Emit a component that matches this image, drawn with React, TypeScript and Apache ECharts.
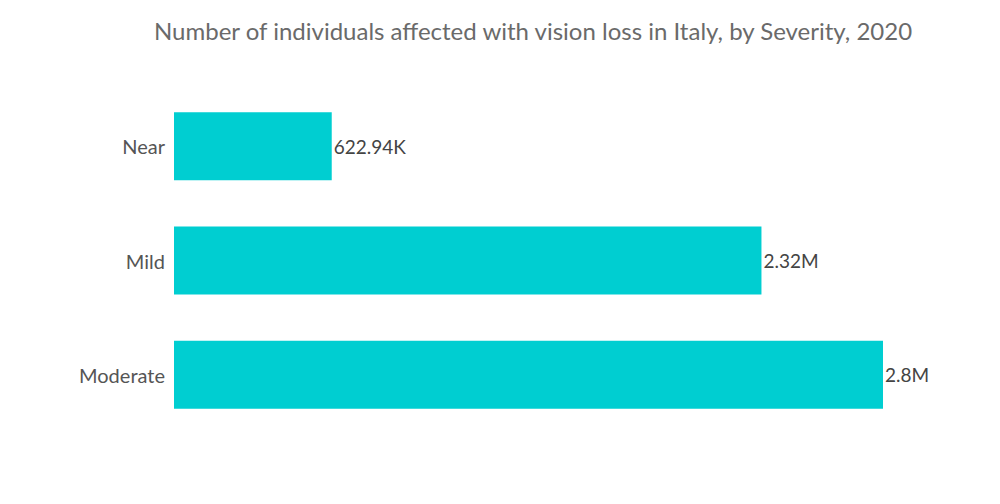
import React, { useEffect, useRef } from "react";
import * as echarts from "echarts";

const categories = ["Near", "Mild", "Moderate"];
const values = [622940, 2320000, 2800000];
const valueLabels = ["622.94K", "2.32M", "2.8M"];

export default function App() {
  const ref = useRef<HTMLDivElement>(null);
  useEffect(() => {
    document.body.style.margin = "0";
    const chart = echarts.init(ref.current!, null, { renderer: "svg" });
    chart.setOption({
      animation: false,
      title: {
        text: "Number of individuals affected with vision loss in Italy, by Severity, 2020",
        left: 149,
        top: 13,
        textStyle: {
          fontFamily: "Lato",
          fontSize: 24,
          fontWeight: "normal",
          color: "#6a6a6a",
        },
      },
      grid: { left: 174, right: 117, top: 89, height: 343, containLabel: false },
      xAxis: {
        type: "value",
        min: 0,
        max: 2800000,
        show: false,
      },
      yAxis: {
        type: "category",
        data: categories,
        inverse: true,
        axisLine: { show: false },
        axisTick: { show: false },
        axisLabel: {
          margin: 9,
          fontFamily: "Lato",
          fontSize: 20,
          color: "#555555",
        },
      },
      series: [
        {
          type: "bar",
          data: values,
          barWidth: 68,
          itemStyle: { color: "#00CED1" },
          label: {
            show: true,
            position: "right",
            distance: 2,
            fontFamily: "Lato",
            fontSize: 19,
            color: "#444444",
            formatter: (p: any) => valueLabels[p.dataIndex],
          },
        },
      ],
    });
    return () => chart.dispose();
  }, []);
  return <div ref={ref} style={{ width: 1000, height: 504 }} />;
}
